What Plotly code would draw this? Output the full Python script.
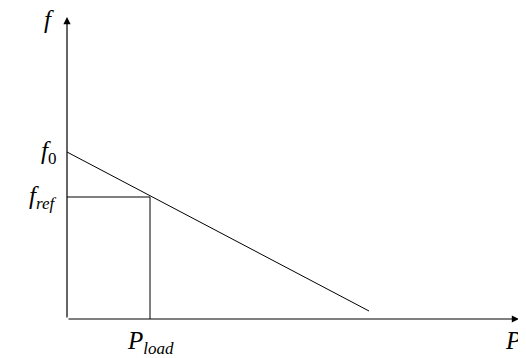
import plotly.graph_objects as go

# droop characteristic (arbitrary units)
f0 = 3.34
f_ref = 2.44
p_load = 1.66
droop_p = [0.0, 6.04]
droop_f = [f0, 0.16]

x_axis_end = 9.04
y_axis_end = 6.04

font = dict(family='Liberation Serif', size=25, color='black')


def sub(text):
    return f'<span style="font-size:17px">{text}</span>'


fig = go.Figure()
fig.add_trace(go.Scatter(x=droop_p, y=droop_f, mode='lines',
                         line=dict(color='black', width=1), hoverinfo='skip'))
fig.add_trace(go.Scatter(x=[0, p_load, p_load], y=[f_ref, f_ref, 0], mode='lines',
                         line=dict(color='black', width=1), hoverinfo='skip'))

# axes with arrow heads
for x, y in [(x_axis_end, 0), (0, y_axis_end)]:
    fig.add_annotation(x=x, y=y, ax=0, ay=0, xref='x', yref='y', axref='x', ayref='y',
                       showarrow=True, arrowhead=2, arrowsize=1.2, arrowwidth=1.2,
                       arrowcolor='black', text='', standoff=0, startstandoff=0)

labels = [
    (-0.22, y_axis_end - 0.04, '<i>f</i>', 'right', 'middle'),
    (-0.18, f0, '<i>f</i><sub>' + sub('0') + '</sub>', 'right', 'middle'),
    (-0.18, f_ref, '<i>f</i><sub>' + sub('<i>ref</i>') + '</sub>', 'right', 'middle'),
    (p_load, -0.12, '<i>P</i><sub>' + sub('<i>load</i>') + '</sub>', 'center', 'top'),
    (x_axis_end - 0.32, -0.12, '<i>P</i>', 'left', 'top'),
]
for x, y, text, xa, ya in labels:
    fig.add_annotation(x=x, y=y, text=text, showarrow=False, xanchor=xa, yanchor=ya,
                       font=font)

# the page body has an 8px margin, so the figure is 16px smaller than the window
fig.update_layout(
    width=518, height=350,
    margin=dict(l=0, r=0, t=0, b=0),
    paper_bgcolor='white', plot_bgcolor='white',
    showlegend=False,
    xaxis=dict(range=[-1.18, 9.18], visible=False),
    yaxis=dict(range=[-0.78, 6.22], visible=False),
)

fig.write_html("out.html")
